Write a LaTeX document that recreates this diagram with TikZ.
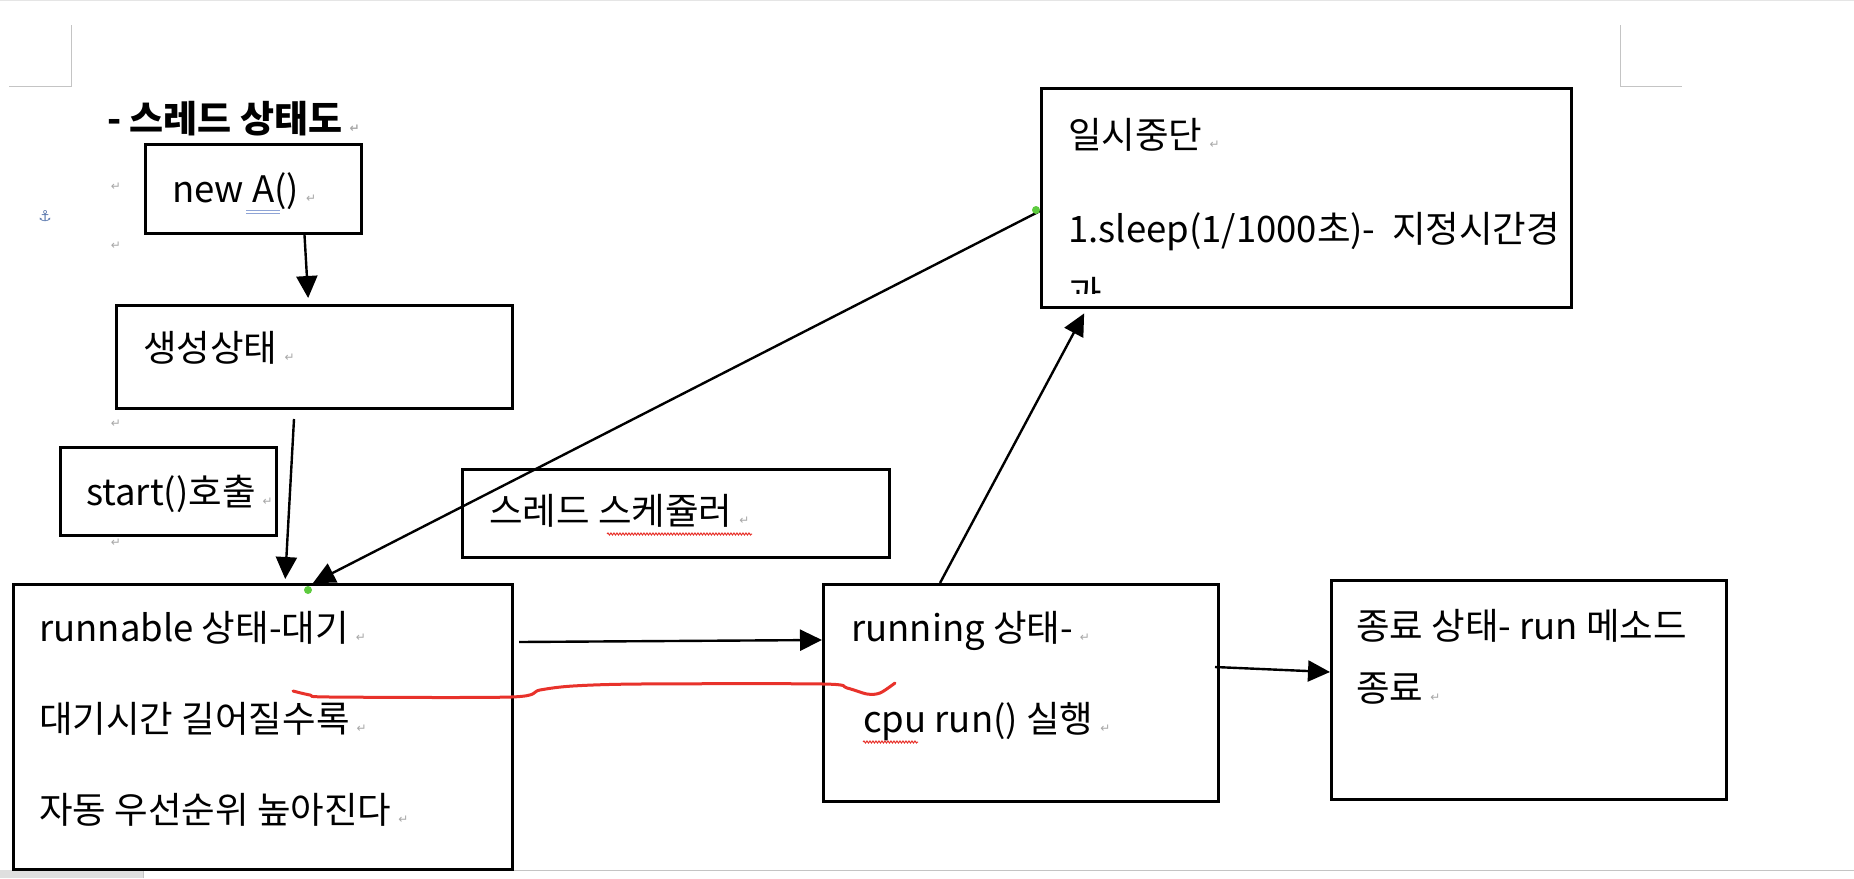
\documentclass[tikz,border=0pt]{standalone}
\usepackage{fontspec}
\setmainfont{Noto Sans CJK KR}
\newfontfamily\symfont{DejaVu Sans}
\usepackage{xcolor}
\usepackage{tikz}
\usetikzlibrary{arrows.meta,calc,decorations.pathmorphing}
\definecolor{markgray}{HTML}{A8A8A8}
\definecolor{pagegray}{HTML}{C4C4C4}
\definecolor{penred}{HTML}{E8322B}
\definecolor{handle}{HTML}{5DCB3E}
\definecolor{anchorblue}{HTML}{5A78AE}
\definecolor{gramblue}{HTML}{8FA4D6}
\newcommand{\retm}{\hspace{7pt}{\symfont\fontsize{12}{12}\selectfont\color{markgray}↵}}

\begin{document}
\begin{tikzpicture}[
        x=1pt,y=-1pt,
        font=\fontsize{36.5}{42}\selectfont,
        >={Triangle[length=22pt,width=21pt]},
        block/.style={rectangle,draw,line width=3pt,inner sep=0pt,anchor=north west},
        txt/.style={anchor=base west,inner sep=0pt},
        retmark/.style={inner sep=0pt,font=\symfont\fontsize{12}{12}\selectfont,text=markgray},
        arrow/.style={->,line width=2.4pt},
        spell/.style={penred,line width=1pt,decorate,decoration={snake,amplitude=1pt,segment length=3pt}}
    ]
        \fill[white] (0,0) rectangle (1854,878);
        \useasboundingbox (0,0) rectangle (1854,878);
        % page edges and corner marks
        \draw[gray!20,line width=1pt] (0,0.5) -- (1854,0.5);
        \draw[pagegray,line width=1pt] (9,86) -- (71,86) -- (71,25);
        \draw[pagegray,line width=1pt] (1620,25) -- (1620,86) -- (1682,86);
        \fill[gray!25] (0,870) rectangle (143,878);
        \draw[pagegray,line width=1pt] (143,878) -- (143,870.5) -- (1854,870.5);

        \node[txt,font=\fontsize{37}{42}\selectfont\bfseries] (title) at (107,132) {- 스레드 상태도\retm};
        \node[inner sep=0pt,font=\symfont\fontsize{15}{15}\selectfont,text=anchorblue] (anch) at (45,216) {⚓};
        \foreach \y in {187,246,424,543}
            \node[retmark] at (116,\y) {↵};

        % boxes
        \node[block,minimum width=216pt,minimum height=89pt] (newA) at (144,143) {};
        \node[block,minimum width=396pt,minimum height=103pt] (gen) at (115,304) {};
        \node[block,minimum width=216pt,minimum height=88pt] (start) at (59,446) {};
        \node[block,minimum width=427pt,minimum height=88pt] (sched) at (461,468) {};
        \node[block,minimum width=499pt,minimum height=285pt] (run) at (12,583) {};
        \node[block,minimum width=395pt,minimum height=217pt] (running) at (822,583) {};
        \node[block,minimum width=395pt,minimum height=219pt] (endst) at (1330,579) {};
        \node[block,minimum width=530pt,minimum height=219pt] (pause) at (1040,87) {};

        % texts
        \node[txt] at ($(newA.north west)+(28,59)$) {new A()\retm};
        \draw[gramblue,line width=1pt] (246,210) -- (280,210) (246,213) -- (280,213);
        \node[txt] at ($(gen.north west)+(28,57)$) {생성상태\retm};
        \node[txt] at ($(start.north west)+(27,59)$) {start()호출\retm};
        \node[txt] at ($(sched.north west)+(28,56)$) {스레드 스케쥴러\retm};
        \draw[spell] (607,534) -- (752,534);
        \node[txt] at ($(run.north west)+(27,58)$) {runnable 상태-대기\retm};
        \node[txt] at ($(run.north west)+(27,149)$) {대기시간 길어질수록\retm};
        \node[txt] at ($(run.north west)+(27,240)$) {자동 우선순위 높아진다\retm};
        \node[txt] at ($(running.north west)+(29,58)$) {running 상태-\retm};
        \node[txt] at ($(running.north west)+(41,149)$) {cpu run() 실행\retm};
        \draw[spell] (863,742) -- (918,742);
        \node[txt] at ($(endst.north west)+(26,60)$) {종료 상태- run 메소드};
        \node[txt] at ($(endst.north west)+(26,122)$) {종료\retm};
        \node[txt] at ($(pause.north west)+(28,61)$) {일시중단\retm};
        \node[txt] at ($(pause.north west)+(28,155)$) {1.sleep(1/1000초)-~~지정시간경};
        \begin{scope}
            \clip (1041,88) rectangle (1569,293);
            \node[txt] at ($(pause.north west)+(28,220)$) {과};
        \end{scope}

        % connectors
        \draw[arrow,shorten >=6pt] ([xshift=51pt]newA.south) -- ([xshift=-6pt]gen.north);
        \draw[arrow,shorten <=9pt,shorten >=4pt] ([xshift=-20pt]gen.south) -- ([xshift=22pt]run.north);
        \draw[arrow] ([yshift=-13pt]pause.west) -- ([xshift=50pt]run.north);
        \draw[arrow] ([xshift=5pt,yshift=85pt]run.east) -- ([yshift=53pt]running.west);
        \draw[arrow,shorten >=5pt] ([xshift=-81pt]running.north) -- ([xshift=-220pt]pause.south);
        \draw[arrow] ([xshift=-5pt,yshift=26pt]running.east) -- ([yshift=18pt]endst.west);
        \fill[handle] (308,590) circle (4) (1036,210) circle (4);

        % red pen stroke
        \draw[penred,line width=3pt,line cap=round,line join=round] plot[smooth] coordinates
            {(293,691) (310,695) (330,697) (511,697) (540,690) (573,686) (640,684) (823,684) (847,688) (867,694) (880,693) (895,683)};
    \end{tikzpicture}
\end{document}
